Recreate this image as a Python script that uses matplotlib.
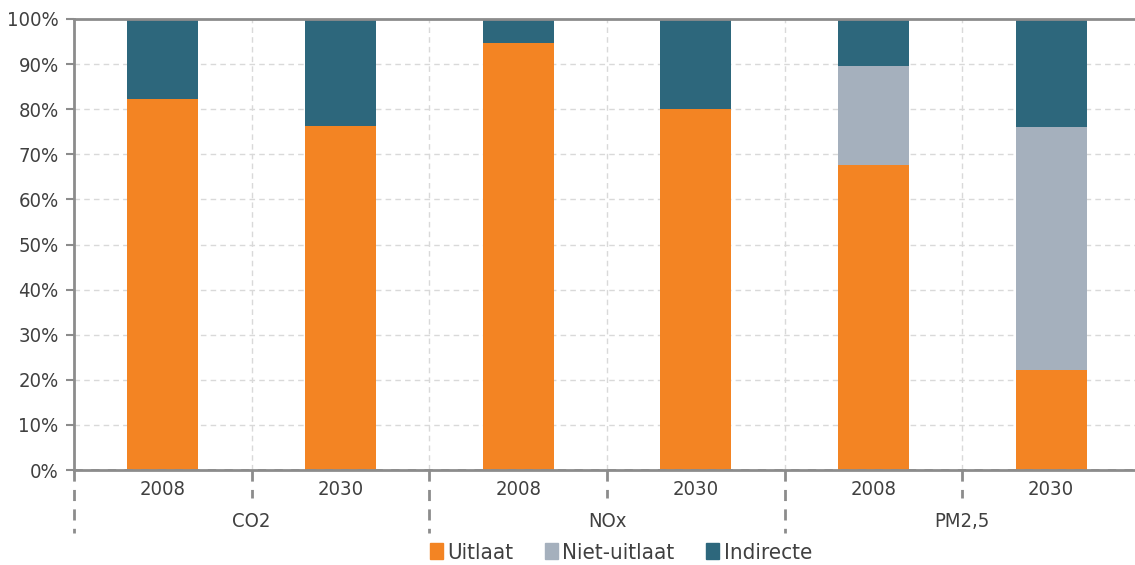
import numpy as np
import matplotlib.pyplot as plt
from matplotlib.patches import Patch

groups = ["CO2", "NOx", "PM2,5"]
years = ["2008", "2030"]
uitlaat = [82.3, 76.3, 94.7, 80.0, 67.6, 22.2]
niet_uitlaat = [0.0, 0.0, 0.0, 0.0, 22.0, 53.9]
indirecte = [17.7, 23.7, 5.3, 20.0, 10.4, 23.9]

c_uit = "#F38423"
c_niet = "#A5B0BD"
c_ind = "#2D677C"
txt = "#404040"
axc = "#8C8C8C"

plt.rcParams['font.family'] = ['DejaVu Sans']
plt.rcParams['font.stretch'] = 'condensed'

fig = plt.figure(figsize=(11.35, 5.65), dpi=100)
ax = fig.add_axes([74 / 1135, 95 / 565, 1066 / 1135, 451 / 565])

x = np.arange(len(uitlaat))
u = np.array(uitlaat)
n = np.array(niet_uitlaat)
i = np.array(indirecte)
ax.bar(x, u, width=0.4, color=c_uit, zorder=2)
ax.bar(x, n, width=0.4, bottom=u, color=c_niet, zorder=2)
ax.bar(x, i, width=0.4, bottom=u + n, color=c_ind, zorder=2)

ax.set_xlim(-0.5, 5.5)
ax.set_ylim(0, 100)
ax.set_yticks(np.arange(0, 101, 10))
ax.set_yticklabels([f"{v}%" for v in range(0, 101, 10)], color=txt, fontsize=14.5)
ax.tick_params(axis='y', length=6, width=1.5, color=axc, pad=5)

# grid
for yv in range(10, 100, 10):
    ax.axhline(yv, color="#D9D9D9", lw=1, ls=(0, (4, 3)), zorder=1)
for xv in np.arange(0.5, 5.5, 1.0):
    ax.axvline(xv, color="#D9D9D9", lw=1, ls=(0, (4, 3)), zorder=1)

ax.spines['right'].set_visible(False)
for s in ['left', 'top', 'bottom']:
    ax.spines[s].set_color(axc)
    ax.spines[s].set_linewidth(2)
ax.spines['bottom'].set_zorder(3)
ax.axhline(0, color=axc, lw=2, ls=(0, (3, 3)), zorder=4)

# two-level category axis
ax.set_xticks([])
trans = ax.get_xaxis_transform()
for k in range(len(x)):
    ax.text(x[k], -0.043, years[k % 2], transform=trans, ha='center', va='center',
            fontsize=14.5, color=txt)
for g, name in enumerate(groups):
    ax.text(2 * g + 0.5, -0.115, name, transform=trans, ha='center', va='center',
            fontsize=14.5, color=txt)
for xv in np.arange(-0.5, 6.0, 1.0):
    depth = -0.14 if int(round(xv + 0.5)) % 2 == 0 else -0.062
    ax.plot([xv, xv], [0, depth], transform=trans, clip_on=False, color=axc,
            lw=2, ls=(0, (4, 3)))

handles = [Patch(color=c_uit, label="Uitlaat"),
           Patch(color=c_niet, label="Niet-uitlaat"),
           Patch(color=c_ind, label="Indirecte")]
fig.legend(handles=handles, loc='center', bbox_to_anchor=(0.547, 0.022), ncol=3,
           frameon=False, fontsize=16, handlelength=0.6, handleheight=0.7,
           handletextpad=0.2, columnspacing=1.4, labelcolor=txt)

fig.savefig("out.png", dpi=100)
